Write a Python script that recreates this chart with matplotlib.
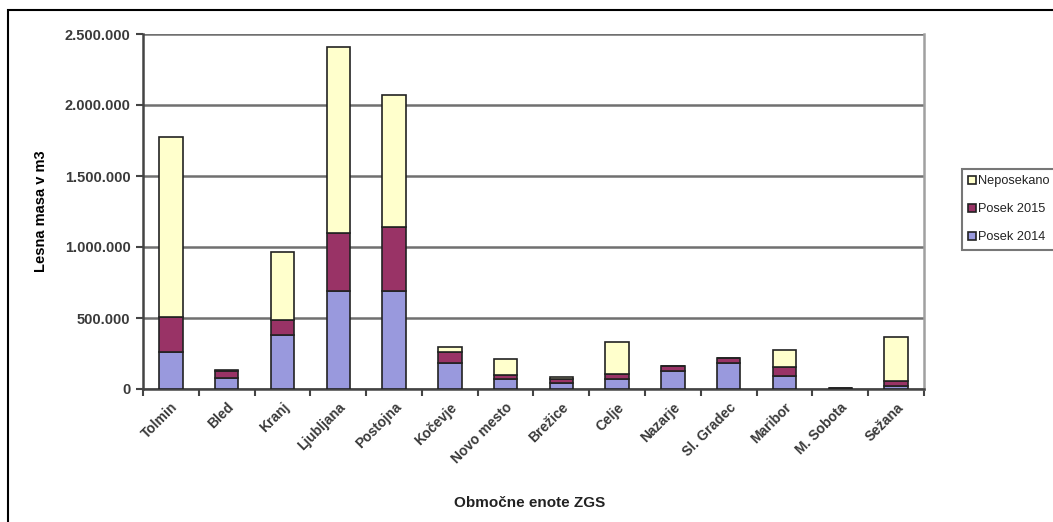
import matplotlib.pyplot as plt
import numpy as np
from matplotlib.patches import Rectangle
from matplotlib.ticker import FuncFormatter

plt.rcParams['font.family'] = ['Liberation Sans', 'DejaVu Sans']

# Podatki po območnih enotah ZGS (m3)
enote = ["Tolmin", "Bled", "Kranj", "Ljubljana", "Postojna", "Kočevje",
         "Novo mesto", "Brežice", "Celje", "Nazarje", "Sl. Gradec",
         "Maribor", "M. Sobota", "Sežana"]
posek_2014 = [263000, 80000, 380000, 692000, 692000, 185000,
              69000, 42000, 72000, 129000, 185000, 94000, 3000, 23000]
posek_2015 = [246000, 45000, 106000, 408000, 451000, 73000,
              30000, 25000, 34000, 30000, 30000, 63000, 2000, 30000]
neposekano = [1268000, 10000, 481000, 1306000, 927000, 40000,
              109000, 16000, 224000, 3000, 4000, 116000, 4000, 312000]

blue = "#9999dd"
red = "#993366"
yellow = "#ffffcc"

fig = plt.figure(figsize=(10.53, 5.22), dpi=100)
W, H = 1053, 522
ax = fig.add_axes([143 / W, 1 - 389 / H, (924 - 143) / W, (389 - 34) / H])

x = np.arange(len(enote))
bw = 0.42
b1 = ax.bar(x, posek_2014, bw, color=blue, edgecolor="#222222", linewidth=1.2, zorder=3)
bottom2 = np.array(posek_2014)
b2 = ax.bar(x, posek_2015, bw, bottom=bottom2, color=red, edgecolor="#222222", linewidth=1.2, zorder=3)
bottom3 = bottom2 + np.array(posek_2015)
b3 = ax.bar(x, neposekano, bw, bottom=bottom3, color=yellow, edgecolor="#222222", linewidth=1.2, zorder=3)

ax.set_xlim(-0.5, len(enote) - 0.5)
ax.set_ylim(0, 2500000)
ax.set_yticks(np.arange(0, 2500001, 500000))
ax.yaxis.set_major_formatter(FuncFormatter(lambda v, p: f"{int(v):,}".replace(",", ".")))
ax.grid(axis="y", color="#707070", linewidth=1.8, zorder=0)

# tick marks between categories, labels centred under bars
ax.set_xticks(np.arange(-0.5, len(enote), 1.0))
ax.set_xticklabels([])
ax.set_xticks(x, minor=True)
ax.set_xticklabels(enote, minor=True, rotation=45, ha="right", rotation_mode="anchor",
                   fontsize=10, fontweight="bold", color="#3a3a3a")
ax.tick_params(axis="x", which="minor", length=0, pad=8)
ax.tick_params(axis="x", which="major", length=5, width=1.5, color="#444444", direction="out")
ax.tick_params(axis="y", length=5, width=1.5, color="#444444", labelsize=10.5,
               labelcolor="#3a3a3a", pad=4)
for t in ax.get_yticklabels():
    t.set_fontweight("bold")

for s in ["left", "bottom"]:
    ax.spines[s].set_color("#444444")
    ax.spines[s].set_linewidth(1.8)
ax.spines["top"].set_visible(False)
ax.spines["right"].set_color("#a0a0a0")
ax.spines["right"].set_linewidth(1.8)

ax.set_ylabel("Lesna masa v m3", fontsize=10.5, fontweight="bold", labelpad=12)
ax.set_xlabel("Območne enote ZGS", fontsize=11, fontweight="bold", color="#222222")
ax.xaxis.set_label_coords((530 - 143) / (924 - 143), -(496 - 389) / (389 - 34))

leg = fig.legend([b3, b2, b1], ["Neposekano", "Posek 2015", "Posek 2014"],
                 loc="upper left", bbox_to_anchor=(962 / W, 1 - 169 / H),
                 prop={"size": 9.2}, frameon=True, fancybox=False,
                 edgecolor="#555555",
                 handlelength=0.6, handleheight=0.6, handletextpad=0.15,
                 labelspacing=1.25, borderpad=0.5, borderaxespad=0)
leg.get_frame().set_linewidth(1.5)
for t in leg.get_texts():
    t.set_color("#222222")

# chart border
fig.patches.append(Rectangle((8 / W, -0.1), 1.2, 1 - 10 / H + 0.1, transform=fig.transFigure,
                             fill=False, edgecolor="black", linewidth=1.5))

fig.savefig("out.png", dpi=100)
